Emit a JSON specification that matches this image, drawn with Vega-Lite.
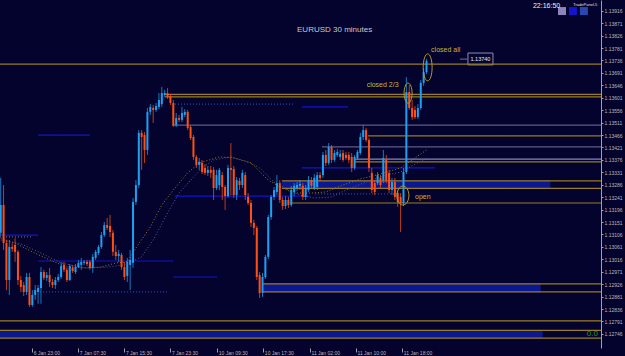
{
"$schema": "https://vega.github.io/schema/vega-lite/v6.json",
"width": 601, "height": 348,
"autosize": {"type": "none"},
"padding": {"left": 0, "top": 0, "right": 24, "bottom": 8},
"background": "#03032d",
"config": {"view": {"stroke": null, "fill": "#03032d"}, "axis": {"labelOverlap": false, "labelBound": false, "labelFlush": false, "grid": false, "labelFont": "Liberation Sans", "labelFontSize": 5, "labelColor": "#b8b8bc", "tickColor": "#a0a0a8", "domainColor": "#a0a0a8"}},
"datasets": {
"candles": [
{"i":0,"o":1.13112,"c":1.13213,"h":1.13311,"l":1.13101},
{"i":1,"o":1.13213,"c":1.13075,"h":1.13285,"l":1.13050},
{"i":2,"o":1.13075,"c":1.12941,"h":1.13086,"l":1.12905},
{"i":3,"o":1.12941,"c":1.13061,"h":1.13086,"l":1.12887},
{"i":4,"o":1.13061,"c":1.13054,"h":1.13075,"l":1.13043},
{"i":5,"o":1.13068,"c":1.13043,"h":1.13093,"l":1.13007},
{"i":6,"o":1.13043,"c":1.12941,"h":1.13050,"l":1.12923},
{"i":7,"o":1.12941,"c":1.12916,"h":1.12956,"l":1.12898},
{"i":8,"o":1.12923,"c":1.12898,"h":1.12934,"l":1.12883},
{"i":9,"o":1.12898,"c":1.12952,"h":1.12967,"l":1.12887},
{"i":10,"o":1.12952,"c":1.12851,"h":1.12967,"l":1.12844},
{"i":11,"o":1.12851,"c":1.12887,"h":1.12905,"l":1.12844},
{"i":12,"o":1.12887,"c":1.12905,"h":1.12923,"l":1.12869},
{"i":13,"o":1.12898,"c":1.12912,"h":1.12923,"l":1.12855},
{"i":14,"o":1.12912,"c":1.12970,"h":1.12988,"l":1.12855},
{"i":15,"o":1.12970,"c":1.12949,"h":1.12978,"l":1.12941},
{"i":16,"o":1.12949,"c":1.12959,"h":1.12970,"l":1.12938},
{"i":17,"o":1.12959,"c":1.12934,"h":1.12985,"l":1.12916},
{"i":18,"o":1.12934,"c":1.12923,"h":1.12945,"l":1.12912},
{"i":19,"o":1.12923,"c":1.12941,"h":1.12952,"l":1.12909},
{"i":20,"o":1.12941,"c":1.12952,"h":1.12963,"l":1.12934},
{"i":21,"o":1.12952,"c":1.12992,"h":1.13007,"l":1.12945},
{"i":22,"o":1.12996,"c":1.12978,"h":1.13007,"l":1.12970},
{"i":23,"o":1.12978,"c":1.12941,"h":1.12985,"l":1.12934},
{"i":24,"o":1.12941,"c":1.12992,"h":1.12999,"l":1.12938},
{"i":25,"o":1.12985,"c":1.12974,"h":1.12996,"l":1.12967},
{"i":26,"o":1.12970,"c":1.12988,"h":1.12999,"l":1.12963},
{"i":27,"o":1.12988,"c":1.13003,"h":1.13014,"l":1.12985},
{"i":28,"o":1.12996,"c":1.13007,"h":1.13021,"l":1.12978},
{"i":29,"o":1.13003,"c":1.13007,"h":1.13014,"l":1.12996},
{"i":30,"o":1.13007,"c":1.12999,"h":1.13014,"l":1.12992},
{"i":31,"o":1.13007,"c":1.12985,"h":1.13014,"l":1.12978},
{"i":32,"o":1.12985,"c":1.13025,"h":1.13036,"l":1.12967},
{"i":33,"o":1.13021,"c":1.13043,"h":1.13050,"l":1.13014},
{"i":34,"o":1.13039,"c":1.13061,"h":1.13068,"l":1.13032},
{"i":35,"o":1.13061,"c":1.13104,"h":1.13115,"l":1.13054},
{"i":36,"o":1.13104,"c":1.13140,"h":1.13151,"l":1.13097},
{"i":37,"o":1.13140,"c":1.13130,"h":1.13166,"l":1.13122},
{"i":38,"o":1.13137,"c":1.13115,"h":1.13177,"l":1.13097},
{"i":39,"o":1.13112,"c":1.13043,"h":1.13122,"l":1.13028},
{"i":40,"o":1.13043,"c":1.13028,"h":1.13068,"l":1.13014},
{"i":41,"o":1.13028,"c":1.13036,"h":1.13050,"l":1.13007},
{"i":42,"o":1.13032,"c":1.12988,"h":1.13039,"l":1.12978},
{"i":43,"o":1.12988,"c":1.12952,"h":1.13007,"l":1.12941},
{"i":44,"o":1.12956,"c":1.13007,"h":1.13021,"l":1.12934},
{"i":45,"o":1.12996,"c":1.13014,"h":1.13050,"l":1.12905},
{"i":46,"o":1.13003,"c":1.13224,"h":1.13238,"l":1.12985},
{"i":47,"o":1.13224,"c":1.13285,"h":1.13303,"l":1.13213},
{"i":48,"o":1.13285,"c":1.13474,"h":1.13484,"l":1.13274},
{"i":49,"o":1.13474,"c":1.13459,"h":1.13484,"l":1.13340},
{"i":50,"o":1.13466,"c":1.13412,"h":1.13477,"l":1.13365},
{"i":51,"o":1.13412,"c":1.13550,"h":1.13564,"l":1.13394},
{"i":52,"o":1.13550,"c":1.13568,"h":1.13578,"l":1.13539},
{"i":53,"o":1.13564,"c":1.13557,"h":1.13575,"l":1.13510},
{"i":54,"o":1.13557,"c":1.13571,"h":1.13582,"l":1.13550},
{"i":55,"o":1.13568,"c":1.13593,"h":1.13618,"l":1.13560},
{"i":56,"o":1.13578,"c":1.13618,"h":1.13640,"l":1.13568},
{"i":57,"o":1.13611,"c":1.13618,"h":1.13629,"l":1.13604},
{"i":58,"o":1.13618,"c":1.13604,"h":1.13636,"l":1.13597},
{"i":59,"o":1.13607,"c":1.13582,"h":1.13615,"l":1.13575},
{"i":60,"o":1.13582,"c":1.13502,"h":1.13593,"l":1.13495},
{"i":61,"o":1.13502,"c":1.13528,"h":1.13546,"l":1.13495},
{"i":62,"o":1.13528,"c":1.13521,"h":1.13539,"l":1.13513},
{"i":63,"o":1.13521,"c":1.13546,"h":1.13568,"l":1.13513},
{"i":64,"o":1.13539,"c":1.13550,"h":1.13560,"l":1.13531},
{"i":65,"o":1.13550,"c":1.13492,"h":1.13557,"l":1.13484},
{"i":66,"o":1.13495,"c":1.13455,"h":1.13502,"l":1.13448},
{"i":67,"o":1.13459,"c":1.13387,"h":1.13466,"l":1.13376},
{"i":68,"o":1.13387,"c":1.13358,"h":1.13394,"l":1.13347},
{"i":69,"o":1.13358,"c":1.13369,"h":1.13383,"l":1.13340},
{"i":70,"o":1.13365,"c":1.13332,"h":1.13376,"l":1.13325},
{"i":71,"o":1.13347,"c":1.13329,"h":1.13361,"l":1.13321},
{"i":72,"o":1.13329,"c":1.13340,"h":1.13354,"l":1.13318},
{"i":73,"o":1.13340,"c":1.13329,"h":1.13354,"l":1.13311},
{"i":74,"o":1.13340,"c":1.13274,"h":1.13350,"l":1.13231},
{"i":75,"o":1.13274,"c":1.13321,"h":1.13340,"l":1.13267},
{"i":76,"o":1.13285,"c":1.13340,"h":1.13347,"l":1.13267},
{"i":77,"o":1.13321,"c":1.13278,"h":1.13332,"l":1.13231},
{"i":78,"o":1.13278,"c":1.13245,"h":1.13285,"l":1.13195},
{"i":79,"o":1.13245,"c":1.13347,"h":1.13358,"l":1.13238},
{"i":80,"o":1.13347,"c":1.13340,"h":1.13437,"l":1.13249},
{"i":81,"o":1.13343,"c":1.13249,"h":1.13354,"l":1.13238},
{"i":82,"o":1.13249,"c":1.13303,"h":1.13314,"l":1.13231},
{"i":83,"o":1.13300,"c":1.13285,"h":1.13311,"l":1.13267},
{"i":84,"o":1.13285,"c":1.13329,"h":1.13340,"l":1.13274},
{"i":85,"o":1.13321,"c":1.13249,"h":1.13332,"l":1.13231},
{"i":86,"o":1.13242,"c":1.13220,"h":1.13256,"l":1.13213},
{"i":87,"o":1.13220,"c":1.13148,"h":1.13231,"l":1.13133},
{"i":88,"o":1.13148,"c":1.13130,"h":1.13159,"l":1.13104},
{"i":89,"o":1.13130,"c":1.12952,"h":1.13137,"l":1.12941},
{"i":90,"o":1.12959,"c":1.12894,"h":1.12970,"l":1.12876},
{"i":91,"o":1.12894,"c":1.12952,"h":1.12967,"l":1.12880},
{"i":92,"o":1.12952,"c":1.13025,"h":1.13032,"l":1.12945},
{"i":93,"o":1.13025,"c":1.13169,"h":1.13177,"l":1.13017},
{"i":94,"o":1.13169,"c":1.13242,"h":1.13249,"l":1.13159},
{"i":95,"o":1.13242,"c":1.13267,"h":1.13278,"l":1.13231},
{"i":96,"o":1.13260,"c":1.13292,"h":1.13321,"l":1.13249},
{"i":97,"o":1.13292,"c":1.13231,"h":1.13303,"l":1.13220},
{"i":98,"o":1.13231,"c":1.13209,"h":1.13242,"l":1.13195},
{"i":99,"o":1.13209,"c":1.13231,"h":1.13245,"l":1.13198},
{"i":100,"o":1.13231,"c":1.13213,"h":1.13242,"l":1.13202},
{"i":101,"o":1.13213,"c":1.13267,"h":1.13282,"l":1.13206},
{"i":102,"o":1.13260,"c":1.13282,"h":1.13292,"l":1.13245},
{"i":103,"o":1.13274,"c":1.13285,"h":1.13296,"l":1.13264},
{"i":104,"o":1.13282,"c":1.13289,"h":1.13303,"l":1.13267},
{"i":105,"o":1.13282,"c":1.13242,"h":1.13292,"l":1.13231},
{"i":106,"o":1.13242,"c":1.13274,"h":1.13285,"l":1.13231},
{"i":107,"o":1.13267,"c":1.13303,"h":1.13318,"l":1.13260},
{"i":108,"o":1.13303,"c":1.13282,"h":1.13314,"l":1.13271},
{"i":109,"o":1.13274,"c":1.13311,"h":1.13325,"l":1.13267},
{"i":110,"o":1.13278,"c":1.13321,"h":1.13332,"l":1.13267},
{"i":111,"o":1.13321,"c":1.13311,"h":1.13332,"l":1.13300},
{"i":112,"o":1.13321,"c":1.13394,"h":1.13405,"l":1.13311},
{"i":113,"o":1.13394,"c":1.13365,"h":1.13412,"l":1.13354},
{"i":114,"o":1.13365,"c":1.13423,"h":1.13437,"l":1.13358},
{"i":115,"o":1.13423,"c":1.13376,"h":1.13430,"l":1.13365},
{"i":116,"o":1.13376,"c":1.13401,"h":1.13412,"l":1.13369},
{"i":117,"o":1.13394,"c":1.13405,"h":1.13416,"l":1.13387},
{"i":118,"o":1.13387,"c":1.13398,"h":1.13412,"l":1.13376},
{"i":119,"o":1.13401,"c":1.13376,"h":1.13412,"l":1.13369},
{"i":120,"o":1.13394,"c":1.13383,"h":1.13405,"l":1.13376},
{"i":121,"o":1.13394,"c":1.13376,"h":1.13405,"l":1.13365},
{"i":122,"o":1.13387,"c":1.13347,"h":1.13401,"l":1.13332},
{"i":123,"o":1.13347,"c":1.13387,"h":1.13394,"l":1.13340},
{"i":124,"o":1.13383,"c":1.13405,"h":1.13412,"l":1.13376},
{"i":125,"o":1.13401,"c":1.13459,"h":1.13474,"l":1.13394},
{"i":126,"o":1.13459,"c":1.13484,"h":1.13502,"l":1.13448},
{"i":127,"o":1.13484,"c":1.13448,"h":1.13492,"l":1.13441},
{"i":128,"o":1.13448,"c":1.13347,"h":1.13455,"l":1.13332},
{"i":129,"o":1.13329,"c":1.13267,"h":1.13347,"l":1.13256},
{"i":130,"o":1.13292,"c":1.13260,"h":1.13303,"l":1.13249},
{"i":131,"o":1.13292,"c":1.13321,"h":1.13332,"l":1.13285},
{"i":132,"o":1.13311,"c":1.13285,"h":1.13321,"l":1.13274},
{"i":133,"o":1.13303,"c":1.13383,"h":1.13412,"l":1.13292},
{"i":134,"o":1.13376,"c":1.13303,"h":1.13394,"l":1.13292},
{"i":135,"o":1.13329,"c":1.13267,"h":1.13340,"l":1.13256},
{"i":136,"o":1.13267,"c":1.13296,"h":1.13311,"l":1.13249},
{"i":137,"o":1.13296,"c":1.13242,"h":1.13311,"l":1.13231},
{"i":138,"o":1.13256,"c":1.13224,"h":1.13267,"l":1.13206},
{"i":139,"o":1.13242,"c":1.13220,"h":1.13256,"l":1.13115},
{"i":140,"o":1.13220,"c":1.13332,"h":1.13347,"l":1.13209},
{"i":141,"o":1.13332,"c":1.13622,"h":1.13676,"l":1.13325},
{"i":142,"o":1.13622,"c":1.13564,"h":1.13647,"l":1.13557},
{"i":143,"o":1.13564,"c":1.13531,"h":1.13593,"l":1.13521},
{"i":144,"o":1.13557,"c":1.13531,"h":1.13571,"l":1.13524},
{"i":145,"o":1.13531,"c":1.13564,"h":1.13578,"l":1.13524},
{"i":146,"o":1.13564,"c":1.13655,"h":1.13665,"l":1.13557},
{"i":147,"o":1.13655,"c":1.13694,"h":1.13709,"l":1.13644},
{"i":148,"o":1.13694,"c":1.13734,"h":1.13741,"l":1.13687}
],
"ma": [
{"i":0,"p":1.13093,"s":"fast"},{"i":5,"p":1.13075,"s":"fast"},{"i":11,"p":1.13043,"s":"fast"},{"i":17,"p":1.13014,"s":"fast"},{"i":23,"p":1.12988,"s":"fast"},{"i":30,"p":1.12985,"s":"fast"},{"i":35,"p":1.12988,"s":"fast"},{"i":40,"p":1.13003,"s":"fast"},{"i":44,"p":1.13007,"s":"fast"},{"i":47,"p":1.13057,"s":"fast"},{"i":52,"p":1.13133,"s":"fast"},{"i":56,"p":1.13213,"s":"fast"},{"i":60,"p":1.13267,"s":"fast"},{"i":65,"p":1.13329,"s":"fast"},{"i":69,"p":1.13365,"s":"fast"},{"i":76,"p":1.13387,"s":"fast"},{"i":81,"p":1.13383,"s":"fast"},{"i":87,"p":1.13365,"s":"fast"},{"i":93,"p":1.13303,"s":"fast"},{"i":97,"p":1.13278,"s":"fast"},{"i":102,"p":1.13256,"s":"fast"},{"i":108,"p":1.13256,"s":"fast"},{"i":113,"p":1.13260,"s":"fast"},{"i":119,"p":1.13285,"s":"fast"},{"i":125,"p":1.13307,"s":"fast"},{"i":132,"p":1.13325,"s":"fast"},{"i":139,"p":1.13347,"s":"fast"},{"i":148,"p":1.13412,"s":"fast"},
{"i":0,"p":1.13086,"s":"slow"},{"i":7,"p":1.13072,"s":"slow"},{"i":14,"p":1.13039,"s":"slow"},{"i":21,"p":1.13003,"s":"slow"},{"i":29,"p":1.12985,"s":"slow"},{"i":37,"p":1.12988,"s":"slow"},{"i":43,"p":1.12996,"s":"slow"},{"i":49,"p":1.13025,"s":"slow"},{"i":53,"p":1.13086,"s":"slow"},{"i":58,"p":1.13184,"s":"slow"},{"i":62,"p":1.13256,"s":"slow"},{"i":67,"p":1.13314,"s":"slow"},{"i":70,"p":1.13347,"s":"slow"},{"i":74,"p":1.13376,"s":"slow"},{"i":80,"p":1.13387,"s":"slow"},{"i":86,"p":1.13369,"s":"slow"},{"i":90,"p":1.13347,"s":"slow"},{"i":95,"p":1.13296,"s":"slow"},{"i":100,"p":1.13267,"s":"slow"},{"i":104,"p":1.13249,"s":"slow"},{"i":109,"p":1.13238,"s":"slow"},{"i":115,"p":1.13242,"s":"slow"},{"i":120,"p":1.13267,"s":"slow"},{"i":127,"p":1.13296,"s":"slow"},{"i":134,"p":1.13321,"s":"slow"},{"i":139,"p":1.13332,"s":"slow"},{"i":148,"p":1.13383,"s":"slow"}
],
"levels": [
{"i1":-0.24,"i2":208.65,"p":1.13723,"k":"gold"},
{"i1":57.1,"i2":208.65,"p":1.13613,"k":"gold"},
{"i1":57.1,"i2":208.65,"p":1.13604,"k":"gold"},
{"i1":59.5,"i2":208.65,"p":1.13502,"k":"grey"},
{"i1":127.7,"i2":208.65,"p":1.13463,"k":"gold"},
{"i1":111.7,"i2":208.65,"p":1.13423,"k":"grey"},
{"i1":123.2,"i2":208.65,"p":1.13379,"k":"lav"},
{"i1":123.2,"i2":208.65,"p":1.13369,"k":"gold"},
{"i1":104.7,"i2":151,"p":1.13347,"k":"blue"},
{"i1":97.8,"i2":208.65,"p":1.13300,"k":"gold"},
{"i1":97.8,"i2":208.65,"p":1.13273,"k":"gold"},
{"i1":60.6,"i2":107.5,"p":1.13245,"k":"blue"},
{"i1":109.3,"i2":137.8,"p":1.13253,"k":"bdot"},
{"i1":100.6,"i2":208.65,"p":1.13220,"k":"gold"},
{"i1":-0.24,"i2":13,"p":1.13104,"k":"blue"},
{"i1":-0.24,"i2":11,"p":1.13097,"k":"gdot"},
{"i1":13,"i2":31,"p":1.13466,"k":"blue"},
{"i1":13,"i2":59.9,"p":1.13010,"k":"blue"},
{"i1":59.9,"i2":75.2,"p":1.12952,"k":"blue"},
{"i1":13.7,"i2":57.8,"p":1.12898,"k":"bdot"},
{"i1":60.6,"i2":102.3,"p":1.13578,"k":"bdot"},
{"i1":104.7,"i2":120.7,"p":1.13568,"k":"blue"},
{"i1":91.2,"i2":208.65,"p":1.12927,"k":"gold"},
{"i1":91.2,"i2":208.65,"p":1.12898,"k":"gold"},
{"i1":-0.24,"i2":208.65,"p":1.12793,"k":"gold"},
{"i1":-0.24,"i2":208.65,"p":1.12759,"k":"gold"},
{"i1":-0.24,"i2":208.65,"p":1.12731,"k":"gold"},
{"i1":159.6,"i2":162.4,"p":1.13741,"k":"grey"}
],
"bands": [
{"i1":97.8,"i2":190.9,"p1":1.13300,"p2":1.13273,"k":"band"},
{"i1":91.2,"i2":187.5,"p1":1.12927,"p2":1.12898,"k":"band"},
{"i1":-0.24,"i2":188.2,"p1":1.12759,"p2":1.12731,"k":"band"},
{"i1":162.4,"i2":171.1,"p1":1.13763,"p2":1.13720,"k":"box"}
],
"ell": [
{"i":148.4,"p":1.13711,"k":"all"},
{"i":141.6,"p":1.13618,"k":"two"},
{"i":139.8,"p":1.13247,"k":"open"}
],
"btn": [
{"i":195.1,"p":1.13915,"k":"b1"},
{"i":198.9,"p":1.13915,"k":"b2"},
{"i":202.7,"p":1.13915,"k":"b3"}
],
"texts": [
{"i":103.0,"p":1.13848,"t":"EURUSD 30 minutes","k":"title"},
{"i":149.6,"p":1.13774,"t":"closed all","k":"note"},
{"i":127.2,"p":1.13647,"t":"closed 2/3","k":"note"},
{"i":144.0,"p":1.13241,"t":"open","k":"note"},
{"i":166.75,"p":1.13741,"t":"1.13740","k":"price"},
{"i":207.6,"p":1.12744,"t":"0.0","k":"zero"},
{"i":185.0,"p":1.13933,"t":"22:16:50","k":"clock"},
{"i":199.0,"p":1.13937,"t":"TradePanel-5","k":"panel"}
]
},
"layer": [
{
"data": {"name": "bands"},
"mark": {"type": "rect", "strokeWidth": 1},
"encoding": {
"x": {"field": "i1", "type": "quantitative", "title": null, "scale": {"domain": [-0.24, 208.65], "nice": false, "zero": false, "padding": 0}, "axis": {"orient": "bottom", "values": [11, 27, 43, 59, 75.3, 91.3, 107.5, 123.5, 139.6], "tickCount": 40, "labelExpr": "datum.value < 20 ? '6 Jan 23:00' : datum.value < 35 ? '7 Jan 07:30' : datum.value < 50 ? '7 Jan 15:30' : datum.value < 65 ? '7 Jan 23:30' : datum.value < 80 ? '10 Jan 09:30' : datum.value < 100 ? '10 Jan 17:30' : datum.value < 115 ? '11 Jan 02:00' : datum.value < 130 ? '11 Jan 10:00' : '11 Jan 18:00'", "domain": false, "grid": false, "title": null, "tickColor": "#a0a0a8", "tickSize": 4, "labelColor": "#b8b8bc", "labelFont": "Liberation Sans", "labelFontSize": 5, "labelAlign": "left", "labelBaseline": "top", "labelPadding": -2, "labelOffset": 1, "labelOverlap": false, "labelBound": false, "labelFlush": false}},
"x2": {"field": "i2"},
"y": {"field": "p1", "type": "quantitative", "title": null, "scale": {"domain": [1.12695, 1.13955], "nice": false, "zero": false, "padding": 0}, "axis": {"orient": "right", "values": [1.12746, 1.12791, 1.12836, 1.12881, 1.12926, 1.12971, 1.13016, 1.13061, 1.13106, 1.13151, 1.13196, 1.13241, 1.13286, 1.13331, 1.13376, 1.13421, 1.13466, 1.13511, 1.13556, 1.13601, 1.13646, 1.13691, 1.13736, 1.13781, 1.13826, 1.13871, 1.13916], "tickCount": 60, "format": ".5f", "grid": false, "title": null, "domainColor": "#a0a0a8", "tickColor": "#a0a0a8", "tickSize": 2, "labelColor": "#b8b8bc", "labelFont": "Liberation Sans", "labelFontSize": 5, "labelPadding": 1, "labelOverlap": false, "labelBound": false, "labelFlush": false}},
"y2": {"field": "p2"},
"fill": {"field": "k", "type": "nominal", "scale": {"domain": ["band", "box"], "range": ["#0c1890", "#03032d"]}, "legend": null},
"stroke": {"field": "k", "type": "nominal", "scale": {"domain": ["band", "box"], "range": ["#0c1890", "#9090b0"]}, "legend": null}
}
},
{
"data": {"name": "levels"},
"mark": {"type": "rule", "strokeWidth": 1.2},
"encoding": {
"x": {"field": "i1", "type": "quantitative", "title": null, "scale": {"domain": [-0.24, 208.65], "nice": false, "zero": false, "padding": 0}},
"x2": {"field": "i2"},
"y": {"field": "p", "type": "quantitative", "title": null, "scale": {"domain": [1.12695, 1.13955], "nice": false, "zero": false, "padding": 0}},
"color": {"field": "k", "type": "nominal", "scale": {"domain": ["gold", "grey", "lav", "blue", "bdot", "gdot"], "range": ["#9a7d22", "#5c5c86", "#8a86b8", "#1414c8", "#2848b0", "#606080"]}, "legend": null},
"strokeDash": {"field": "k", "type": "nominal", "scale": {"domain": ["gold", "grey", "lav", "blue", "bdot", "gdot"], "range": [[1, 0], [1, 0], [1, 0], [1, 0], [1, 2], [1, 2]]}, "legend": null}
}
},
{
"data": {"name": "ma"},
"mark": {"type": "line", "strokeWidth": 1, "strokeDash": [1, 2]},
"encoding": {
"x": {"field": "i", "type": "quantitative", "title": null, "scale": {"domain": [-0.24, 208.65], "nice": false, "zero": false, "padding": 0}},
"y": {"field": "p", "type": "quantitative", "title": null, "scale": {"domain": [1.12695, 1.13955], "nice": false, "zero": false, "padding": 0}},
"color": {"field": "s", "type": "nominal", "scale": {"domain": ["fast", "slow"], "range": ["#8c7a3c", "#7c5a9c"]}, "legend": null}
}
},
{
"data": {"name": "candles"},
"mark": {"type": "rule", "strokeWidth": 1, "opacity": 0.75},
"encoding": {
"x": {"field": "i", "type": "quantitative", "title": null, "scale": {"domain": [-0.24, 208.65], "nice": false, "zero": false, "padding": 0}},
"y": {"field": "l", "type": "quantitative", "title": null, "scale": {"domain": [1.12695, 1.13955], "nice": false, "zero": false, "padding": 0}},
"y2": {"field": "h"},
"color": {"condition": {"test": "datum.c >= datum.o", "value": "#1ea0f0"}, "value": "#ff5014"}
}
},
{
"data": {"name": "candles"},
"mark": {"type": "bar", "size": 2},
"encoding": {
"x": {"field": "i", "type": "quantitative", "title": null, "scale": {"domain": [-0.24, 208.65], "nice": false, "zero": false, "padding": 0}},
"y": {"field": "o", "type": "quantitative", "title": null, "scale": {"domain": [1.12695, 1.13955], "nice": false, "zero": false, "padding": 0}},
"y2": {"field": "c"},
"color": {"condition": {"test": "datum.c >= datum.o", "value": "#1ea0f0"}, "value": "#ff5014"}
}
},
{
"data": {"name": "ell"},
"transform": [{"filter": "datum.k == 'all'"}],
"mark": {"type": "point", "shape": "M0,-1A0.33,1 0 1,1 0,1A0.33,1 0 1,1 0,-1Z", "size": 729, "filled": false, "stroke": "#b09a30", "strokeWidth": 1, "opacity": 1},
"encoding": {"x": {"field": "i", "type": "quantitative", "title": null, "scale": {"domain": [-0.24, 208.65], "nice": false, "zero": false, "padding": 0}}, "y": {"field": "p", "type": "quantitative", "title": null, "scale": {"domain": [1.12695, 1.13955], "nice": false, "zero": false, "padding": 0}}}
},
{
"data": {"name": "ell"},
"transform": [{"filter": "datum.k == 'two'"}],
"mark": {"type": "point", "shape": "M0,-1A0.4,1 0 1,1 0,1A0.4,1 0 1,1 0,-1Z", "size": 400, "filled": false, "stroke": "#b09a30", "strokeWidth": 1, "opacity": 1},
"encoding": {"x": {"field": "i", "type": "quantitative", "title": null, "scale": {"domain": [-0.24, 208.65], "nice": false, "zero": false, "padding": 0}}, "y": {"field": "p", "type": "quantitative", "title": null, "scale": {"domain": [1.12695, 1.13955], "nice": false, "zero": false, "padding": 0}}}
},
{
"data": {"name": "ell"},
"transform": [{"filter": "datum.k == 'open'"}],
"mark": {"type": "point", "shape": "M0,-1A0.63,1 0 1,1 0,1A0.63,1 0 1,1 0,-1Z", "size": 361, "filled": false, "stroke": "#b09a30", "strokeWidth": 1, "opacity": 1},
"encoding": {"x": {"field": "i", "type": "quantitative", "title": null, "scale": {"domain": [-0.24, 208.65], "nice": false, "zero": false, "padding": 0}}, "y": {"field": "p", "type": "quantitative", "title": null, "scale": {"domain": [1.12695, 1.13955], "nice": false, "zero": false, "padding": 0}}}
},
{
"data": {"name": "btn"},
"mark": {"type": "point", "shape": "square", "size": 64, "filled": true, "opacity": 1},
"encoding": {
"x": {"field": "i", "type": "quantitative", "title": null, "scale": {"domain": [-0.24, 208.65], "nice": false, "zero": false, "padding": 0}},
"y": {"field": "p", "type": "quantitative", "title": null, "scale": {"domain": [1.12695, 1.13955], "nice": false, "zero": false, "padding": 0}},
"color": {"field": "k", "type": "nominal", "scale": {"domain": ["b1", "b2", "b3"], "range": ["#14148a", "#5a5aa8", "#1414b4"]}, "legend": null}
}
},
{
"data": {"name": "texts"},
"transform": [{"filter": "datum.k == 'title'"}],
"mark": {"type": "text", "align": "left", "baseline": "middle", "font": "Liberation Sans", "fontSize": 8, "color": "#c8c8cc"},
"encoding": {"x": {"field": "i", "type": "quantitative", "title": null, "scale": {"domain": [-0.24, 208.65], "nice": false, "zero": false, "padding": 0}}, "y": {"field": "p", "type": "quantitative", "title": null, "scale": {"domain": [1.12695, 1.13955], "nice": false, "zero": false, "padding": 0}}, "text": {"field": "t"}}
},
{
"data": {"name": "texts"},
"transform": [{"filter": "datum.k == 'note'"}],
"mark": {"type": "text", "align": "left", "baseline": "middle", "font": "Liberation Sans", "fontSize": 7, "color": "#c8b432"},
"encoding": {"x": {"field": "i", "type": "quantitative", "title": null, "scale": {"domain": [-0.24, 208.65], "nice": false, "zero": false, "padding": 0}}, "y": {"field": "p", "type": "quantitative", "title": null, "scale": {"domain": [1.12695, 1.13955], "nice": false, "zero": false, "padding": 0}}, "text": {"field": "t"}}
},
{
"data": {"name": "texts"},
"transform": [{"filter": "datum.k == 'price'"}],
"mark": {"type": "text", "align": "center", "baseline": "middle", "font": "Liberation Sans", "fontSize": 5.5, "color": "#e8e8f0"},
"encoding": {"x": {"field": "i", "type": "quantitative", "title": null, "scale": {"domain": [-0.24, 208.65], "nice": false, "zero": false, "padding": 0}}, "y": {"field": "p", "type": "quantitative", "title": null, "scale": {"domain": [1.12695, 1.13955], "nice": false, "zero": false, "padding": 0}}, "text": {"field": "t"}}
},
{
"data": {"name": "texts"},
"transform": [{"filter": "datum.k == 'zero'"}],
"mark": {"type": "text", "align": "right", "baseline": "middle", "font": "Liberation Sans", "fontSize": 8, "color": "#18a018"},
"encoding": {"x": {"field": "i", "type": "quantitative", "title": null, "scale": {"domain": [-0.24, 208.65], "nice": false, "zero": false, "padding": 0}}, "y": {"field": "p", "type": "quantitative", "title": null, "scale": {"domain": [1.12695, 1.13955], "nice": false, "zero": false, "padding": 0}}, "text": {"field": "t"}}
},
{
"data": {"name": "texts"},
"transform": [{"filter": "datum.k == 'clock'"}],
"mark": {"type": "text", "align": "left", "baseline": "middle", "font": "Liberation Sans", "fontSize": 7, "color": "#f0f0f0"},
"encoding": {"x": {"field": "i", "type": "quantitative", "title": null, "scale": {"domain": [-0.24, 208.65], "nice": false, "zero": false, "padding": 0}}, "y": {"field": "p", "type": "quantitative", "title": null, "scale": {"domain": [1.12695, 1.13955], "nice": false, "zero": false, "padding": 0}}, "text": {"field": "t"}}
},
{
"data": {"name": "texts"},
"transform": [{"filter": "datum.k == 'panel'"}],
"mark": {"type": "text", "align": "left", "baseline": "middle", "font": "Liberation Sans", "fontSize": 4, "color": "#e0e0e8"},
"encoding": {"x": {"field": "i", "type": "quantitative", "title": null, "scale": {"domain": [-0.24, 208.65], "nice": false, "zero": false, "padding": 0}}, "y": {"field": "p", "type": "quantitative", "title": null, "scale": {"domain": [1.12695, 1.13955], "nice": false, "zero": false, "padding": 0}}, "text": {"field": "t"}}
}
]
}
